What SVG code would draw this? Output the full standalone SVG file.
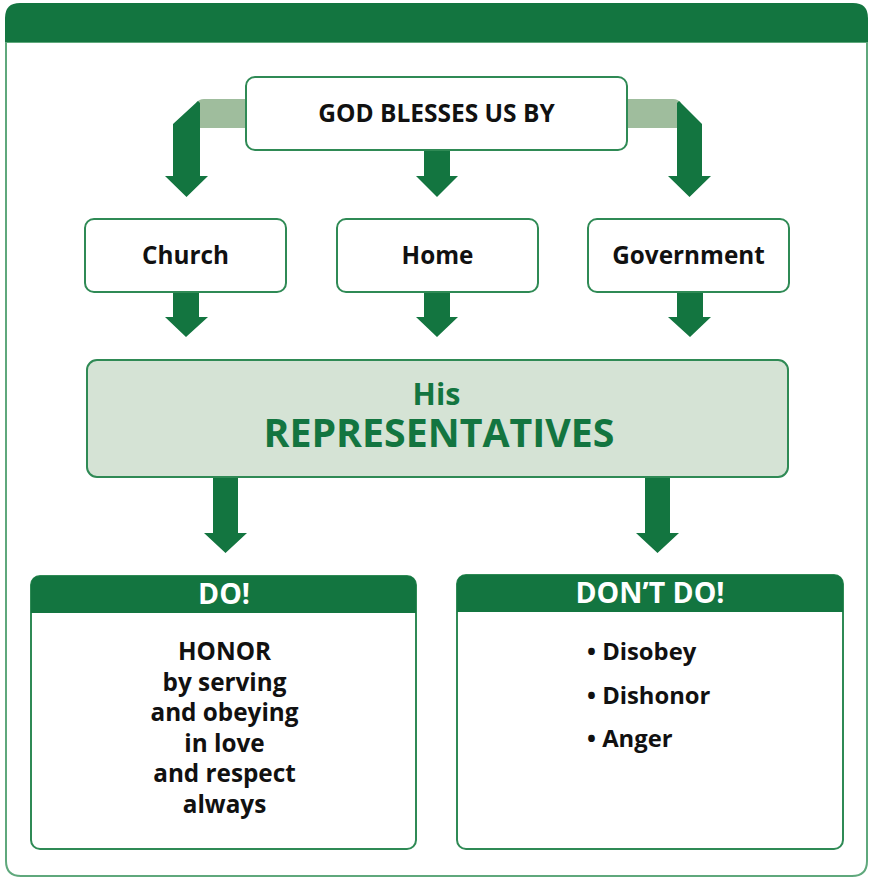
<svg xmlns="http://www.w3.org/2000/svg" width="870" height="878" viewBox="0 0 870 878">
<style>
.box{fill:#ffffff;stroke:#2f8a55;stroke-width:2}
.dk{fill:#137540}
.lt{fill:#9fbd9d}
.t{font-family:"Open Sans","Noto Sans","Liberation Sans",sans-serif;font-weight:bold;fill:#111111;text-anchor:middle}
.g{fill:#137540}
.w{fill:#ffffff}
</style>
<rect width="870" height="878" fill="#ffffff"/>
<g id="frame">
<path d="M6,42 V861 Q6,876 21,876 H852 Q867,876 867,861 V42 Z" fill="#ffffff" stroke="#5fa87c" stroke-width="2"/>
<path d="M5,42 V18 Q5,3 20,3 H853 Q868,3 868,18 V42 Z" class="dk"/>
</g>
<g id="connectors">
<path class="lt" d="M248,99 H204 Q199,99 196,103 L200,128 H248 Z"/>
<polygon class="dk" points="198,101 200,103 200,176 208,176 186.5,197 165,176 173,176 173,124"/>
<path class="lt" d="M626,99 H673 Q678,99 681,103 L677,128 H626 Z"/>
<polygon class="dk" points="679,101 677,103 677,176 668,176 689.5,197 711,176 702,176 702,124"/>
<polygon class="dk" points="424,150 450,150 450,176 458,176 437,197 416,176 424,176"/>
<polygon class="dk" points="173,292 199,292 199,317 208,317 186,337 165,317 173,317"/>
<polygon class="dk" points="424,292 450,292 450,317 458,317 437,337 416,317 424,317"/>
<polygon class="dk" points="677,292 703,292 703,317 711,317 690,337 668,317 677,317"/>
<polygon class="dk" points="213,477 238,477 238,533 247,533 225.5,553 204,533 213,533"/>
<polygon class="dk" points="645,477 670,477 670,533 679,533 657.5,553 636,533 645,533"/>
</g>
<g id="god">
<rect class="box" x="246" y="77" width="381" height="73" rx="9"/>
<text class="t" x="436.5" y="122" font-size="24.5">GOD BLESSES US BY</text>
</g>
<g id="church">
<rect class="box" x="85" y="219" width="201" height="73" rx="9"/>
<text class="t" x="185.5" y="264" font-size="24.3">Church</text>
</g>
<g id="home">
<rect class="box" x="337" y="219" width="201" height="73" rx="9"/>
<text class="t" x="437.5" y="264" font-size="24.3">Home</text>
</g>
<g id="government">
<rect class="box" x="588" y="219" width="201" height="73" rx="9"/>
<text class="t" x="688.5" y="264" font-size="24.3">Government</text>
</g>
<g id="representatives">
<rect x="87" y="360" width="701" height="117" rx="10" fill="#d5e3d5" stroke="#2f8a55" stroke-width="2"/>
<text class="t g" x="436.5" y="405" font-size="30.5">His</text>
<text class="t g" x="439" y="447" font-size="39.3">REPRESENTATIVES</text>
</g>
<g id="do">
<rect class="box" x="31" y="576" width="385" height="273" rx="9"/>
<path class="dk" d="M31,613 V585 Q31,576 40,576 H407 Q416,576 416,585 V613 Z"/>
<text class="t w" x="224" y="604" font-size="28.5">DO!</text>
<text class="t" font-size="24.3"><tspan x="224.5" y="660">HONOR</tspan><tspan x="224.5" y="690.5">by serving</tspan><tspan x="224.5" y="721">and obeying</tspan><tspan x="224.5" y="751.5">in love</tspan><tspan x="224.5" y="782">and respect</tspan><tspan x="224.5" y="812.5">always</tspan></text>
</g>
<g id="dontdo">
<rect class="box" x="457" y="575" width="386" height="274" rx="9"/>
<path class="dk" d="M457,612 V584 Q457,575 466,575 H834 Q843,575 843,584 V612 Z"/>
<text class="t w" x="650" y="603" font-size="28.5">DON’T DO!</text>
<text class="t" font-size="23.8" style="text-anchor:start"><tspan x="587" y="660">• Disobey</tspan><tspan x="587" y="704">• Dishonor</tspan><tspan x="587" y="747">• Anger</tspan></text>
</g>
</svg>
